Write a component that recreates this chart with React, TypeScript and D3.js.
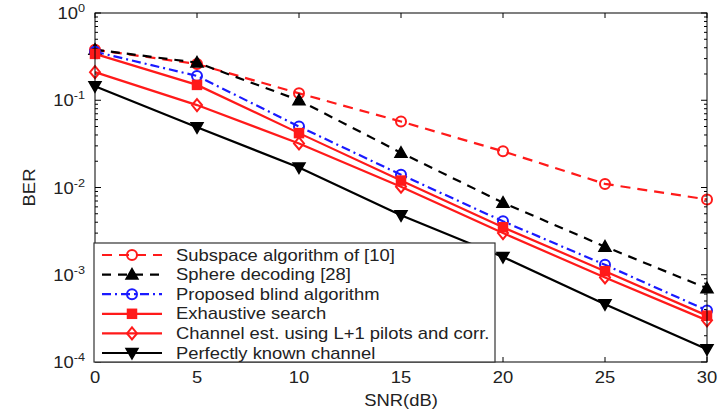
import React from "react";
import * as d3 from "d3";

const snr = [0, 5, 10, 15, 20, 25, 30];

const subspace = [0.38, 0.26, 0.12, 0.057, 0.026, 0.011, 0.0073];
const sphere = [0.38, 0.27, 0.1, 0.025, 0.0067, 0.0021, 0.0007];
const proposed = [0.36, 0.19, 0.05, 0.014, 0.0041, 0.0013, 0.00039];
const exhaustive = [0.34, 0.15, 0.042, 0.012, 0.0035, 0.0011, 0.00034];
const channelEst = [0.21, 0.088, 0.032, 0.0102, 0.003, 0.00093, 0.0003];
const perfect = [0.145, 0.049, 0.017, 0.0048, 0.0016, 0.00046, 0.00014];

const xTicks = [0, 5, 10, 15, 20, 25, 30];
const yDecades = [0, -1, -2, -3, -4];

const series = [
  { name: "Subspace algorithm of [10]", values: subspace, color: "#ff1a1a", dash: "10,7", marker: "circle", fill: "none" },
  { name: "Sphere decoding [28]", values: sphere, color: "#000", dash: "9,7", marker: "tri", fill: "#000" },
  { name: "Proposed blind algorithm", values: proposed, color: "#1a1aff", dash: "9,4,2,4", marker: "circle", fill: "none" },
  { name: "Exhaustive search", values: exhaustive, color: "#ff1a1a", dash: null, marker: "square", fill: "#ff1a1a" },
  { name: "Channel est. using L+1 pilots and corr.", values: channelEst, color: "#ff1a1a", dash: null, marker: "diamond", fill: "none" },
  { name: "Perfectly known channel", values: perfect, color: "#000", dash: null, marker: "dtri", fill: "#000" },
];

const W = 719;
const H = 414;
const left = 95;
const right = 707;
const top = 13;
const bottom = 362;
const font = "'Liberation Sans', Arial, sans-serif";

function Marker({ type, x, y, color, fill }: any) {
  const r = 5;
  if (type === "circle")
    return <circle cx={x} cy={y} r={r} fill="none" stroke={color} strokeWidth={2} />;
  if (type === "square")
    return <rect x={x - 4.5} y={y - 4.5} width={9} height={9} fill={fill} stroke={color} strokeWidth={1.5} />;
  if (type === "diamond")
    return <path d={`M${x},${y - 6}L${x + 5},${y}L${x},${y + 6}L${x - 5},${y}Z`} fill="none" stroke={color} strokeWidth={2} />;
  if (type === "tri")
    return <path d={`M${x},${y - 6}L${x + 6},${y + 4.5}L${x - 6},${y + 4.5}Z`} fill={fill} stroke={color} strokeWidth={1.5} />;
  return <path d={`M${x},${y + 6}L${x + 6},${y - 4.5}L${x - 6},${y - 4.5}Z`} fill={fill} stroke={color} strokeWidth={1.5} />;
}

// stretched label, like the blurry scanned figure
function T({ x, y, anchor, size, children, rotate }: any) {
  const tr = rotate ? `translate(${x},${y}) rotate(${rotate}) scale(1.15,1)` : `translate(${x},${y}) scale(1.15,1)`;
  return (
    <text transform={tr} textAnchor={anchor || "start"} fontFamily={font} fontSize={size || 15.5} fill="#222">
      {children}
    </text>
  );
}

export default function App() {
  const x = d3.scaleLinear().domain([0, 30]).range([left, right]);
  const y = d3.scaleLog().domain([1e-4, 1]).range([bottom, top]);

  const line = d3
    .line<number>()
    .x((_, i) => x(snr[i]))
    .y((d) => y(d));

  // minor ticks 2..9 in every decade
  const minor: number[] = [];
  for (let e = -4; e < 0; e++) for (let k = 2; k <= 9; k++) minor.push(k * Math.pow(10, e));

  const legX = 94;
  const legY = 243;
  const legW = 401;
  const legH = bottom - legY;
  const rowH = 19.6;

  return (
    <svg width={W} height={H} style={{ position: "absolute", left: 0, top: 0, background: "#fff" }}>
      <rect x={0} y={0} width={W} height={H} fill="#fff" />
      {/* ticks */}
      <g stroke="#000" strokeWidth={1}>
        {xTicks.map((t) => (
          <g key={"xt" + t}>
            <line x1={x(t)} x2={x(t)} y1={bottom} y2={bottom - 5} />
            <line x1={x(t)} x2={x(t)} y1={top} y2={top + 5} />
          </g>
        ))}
        {yDecades.map((e) => (
          <g key={"yt" + e}>
            <line x1={left} x2={left + 6} y1={y(Math.pow(10, e))} y2={y(Math.pow(10, e))} />
            <line x1={right} x2={right - 6} y1={y(Math.pow(10, e))} y2={y(Math.pow(10, e))} />
          </g>
        ))}
        {minor.map((m, i) => (
          <g key={"mt" + i}>
            <line x1={left} x2={left + 3} y1={y(m)} y2={y(m)} />
            <line x1={right} x2={right - 3} y1={y(m)} y2={y(m)} />
          </g>
        ))}
      </g>
      {/* series */}
      {series.map((s) => (
        <g key={s.name}>
          <path d={line(s.values) || ""} fill="none" stroke={s.color} strokeWidth={2.2} strokeDasharray={s.dash || undefined} />
          {s.values.map((v, i) => (
            <Marker key={i} type={s.marker} x={x(snr[i])} y={y(v)} color={s.color} fill={s.fill} />
          ))}
        </g>
      ))}
      <rect x={left} y={top} width={right - left} height={bottom - top} fill="none" stroke="#000" strokeWidth={1} />
      {/* legend */}
      <rect x={legX} y={legY} width={legW} height={legH} fill="#fff" stroke="#333" strokeWidth={1.2} />
      {series.map((s, i) => {
        const cy = legY + 12 + i * rowH;
        return (
          <g key={"leg" + i}>
            <line x1={legX + 8} x2={legX + 68} y1={cy} y2={cy} stroke={s.color} strokeWidth={2.2} strokeDasharray={s.dash || undefined} />
            <Marker type={s.marker} x={legX + 38} y={cy} color={s.color} fill={s.fill} />
            <T x={legX + 82} y={cy + 5.5} size={16}>
              {s.name}
            </T>
          </g>
        );
      })}
      {/* axis labels */}
      {xTicks.map((t) => (
        <T key={"xl" + t} x={x(t)} y={bottom + 21} anchor="middle" size={16}>
          {t}
        </T>
      ))}
      {yDecades.map((e) => (
        <T key={"yl" + e} x={left - 10} y={y(Math.pow(10, e)) + 6} anchor="end" size={16}>
          10
          <tspan dy={-7} fontSize={11}>
            {e}
          </tspan>
        </T>
      ))}
      <T x={(left + right) / 2} y={bottom + 44} anchor="middle" size={16}>
        SNR(dB)
      </T>
      <T x={35} y={(top + bottom) / 2} anchor="middle" size={16} rotate={-90}>
        BER
      </T>
    </svg>
  );
}
